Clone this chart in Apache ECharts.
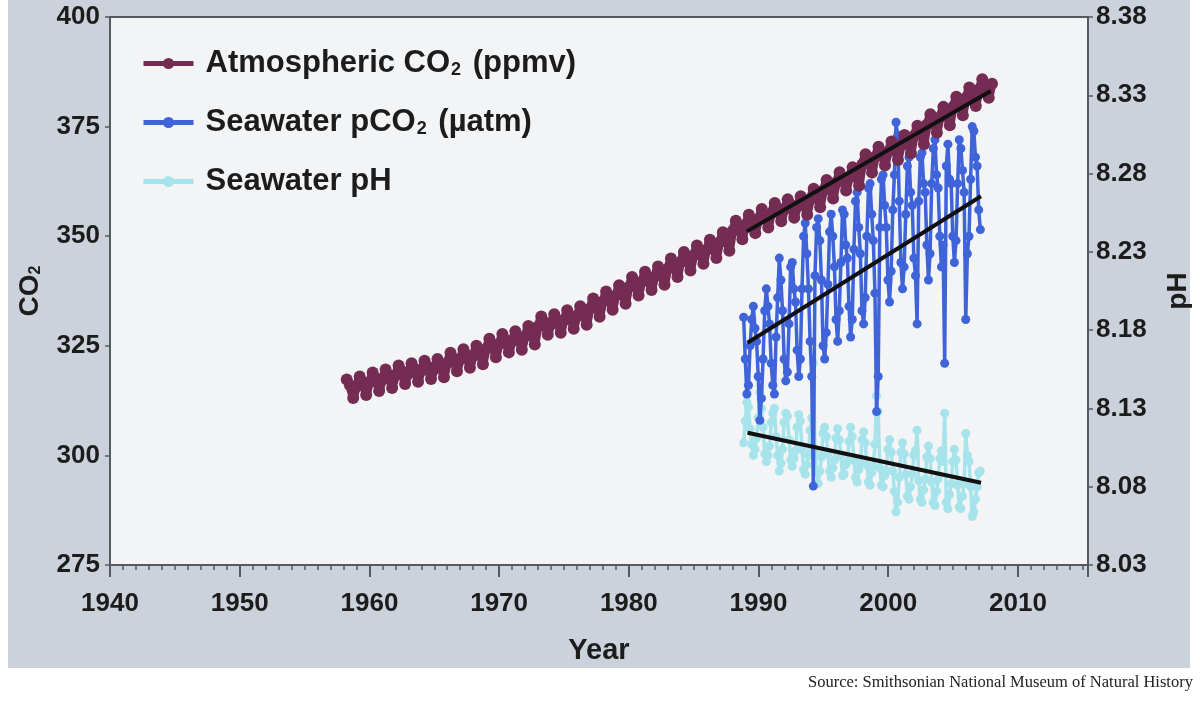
<!DOCTYPE html>
<html>
<head>
<meta charset="utf-8">
<script src="https://cdn.jsdelivr.net/npm/echarts@6/dist/echarts.min.js"></script>
<style>
html,body{margin:0;padding:0;background:#fff;}
#chart{width:1200px;height:702px;}
</style>
</head>
<body>
<div id="chart"></div>
<script>
// Mauna Loa CO2, sampled every quarter (Jan/Apr/Jul/Oct) from Apr 1958
var co2Start = 1958.25;
var co2Step = 0.25;
var co2Values = [
  317.3, 316.0, 313.1,
  315.7, 318.0, 316.7, 313.8,
  316.6, 318.9, 317.6, 314.7,
  317.3, 319.6, 318.3, 315.4,
  318.2, 320.5, 319.2, 316.3,
  318.7, 321.0, 319.7, 316.8,
  319.3, 321.6, 320.3, 317.4,
  319.7, 322.0, 320.7, 317.8,
  321.1, 323.4, 322.1, 319.2,
  321.9, 324.2, 322.9, 320.0,
  322.7, 325.0, 323.7, 320.8,
  324.3, 326.6, 325.3, 322.4,
  325.4, 327.7, 326.4, 323.5,
  326.0, 328.3, 327.0, 324.1,
  327.2, 329.5, 328.2, 325.3,
  329.4, 331.7, 330.4, 327.5,
  329.9, 332.2, 330.9, 328.0,
  330.8, 333.1, 331.8, 328.9,
  331.7, 334.0, 332.7, 329.8,
  333.5, 335.8, 334.5, 331.6,
  335.1, 337.4, 336.1, 333.2,
  336.5, 338.8, 337.5, 334.6,
  338.4, 340.7, 339.4, 336.5,
  339.6, 341.9, 340.6, 337.7,
  340.8, 343.1, 341.8, 338.9,
  342.6, 344.9, 343.6, 340.7,
  344.1, 346.4, 345.1, 342.2,
  345.6, 347.9, 346.6, 343.7,
  346.9, 349.2, 347.9, 345.0,
  348.6, 350.9, 349.6, 346.7,
  351.2, 353.5, 352.2, 349.3,
  352.6, 354.9, 353.6, 350.7,
  353.9, 356.2, 354.9, 352.0,
  355.3, 357.6, 356.3, 353.4,
  356.1, 358.4, 357.1, 354.2,
  356.8, 359.1, 357.8, 354.9,
  358.5, 360.8, 359.5, 356.6,
  360.5, 362.8, 361.5, 358.6,
  362.3, 364.6, 363.3, 360.4,
  363.4, 365.7, 364.4, 361.5,
  366.4, 368.7, 367.4, 364.5,
  368.1, 370.4, 369.1, 366.2,
  369.3, 371.6, 370.3, 367.4,
  370.8, 373.1, 371.8, 368.9,
  372.9, 375.2, 373.9, 371.0,
  375.5, 377.8, 376.5, 373.6,
  377.2, 379.5, 378.2, 375.3,
  379.5, 381.8, 380.5, 377.6,
  381.6, 383.9, 382.6, 379.7,
  383.5, 385.8, 384.5, 381.6,
  384.8
];

// Station ALOHA samples, 8 per year from late 1988
var seaStart = 1988.85;
var seaStep = 0.125;
var pco2Values = [
  331.5, 322, 314, 316, 325, 331, 334, 329,
  326, 318, 308, 313, 322, 333, 338, 334,
  330, 321, 316, 314, 327, 336, 345, 340,
  333, 322, 317, 319, 330, 343, 344, 338,
  335, 324, 318, 322, 338, 350, 353, 346,
  338, 326, 318, 293, 341, 352, 354, 349,
  340, 325, 322, 328, 339, 351, 355, 350,
  343, 331, 326, 333, 344, 356, 355, 348,
  345, 334, 327, 331, 347, 358, 360, 352,
  346, 333, 330, 336, 350, 361, 362, 355,
  349, 337, 310, 318, 352, 363, 364, 357,
  352, 340, 335, 342, 356, 364, 376, 373,
  358, 344, 338, 343, 355, 366, 368, 360,
  357, 345, 341, 330, 358, 368, 369, 362,
  360, 348, 340, 346, 362, 370, 372, 364,
  361, 350, 343, 348, 321, 366, 371, 363,
  362, 350, 344, 349, 362, 372, 370, 365,
  360, 331, 346, 350, 363, 375, 374, 368,
  366, 356, 351.5
];
var phValues = [
  8.108, 8.122, 8.134, 8.131, 8.117, 8.107, 8.100, 8.104,
  8.111, 8.124, 8.140, 8.130, 8.118, 8.101, 8.096, 8.100,
  8.106, 8.121, 8.127, 8.130, 8.112, 8.100, 8.090, 8.095,
  8.104, 8.121, 8.127, 8.125, 8.110, 8.097, 8.093, 8.098,
  8.103, 8.118, 8.126, 8.122, 8.104, 8.091, 8.088, 8.094,
  8.100, 8.116, 8.124, 8.159, 8.103, 8.090, 8.082, 8.090,
  8.099, 8.114, 8.118, 8.112, 8.101, 8.090, 8.086, 8.092,
  8.097, 8.111, 8.117, 8.110, 8.100, 8.087, 8.088, 8.094,
  8.096, 8.109, 8.118, 8.112, 8.097, 8.086, 8.083, 8.091,
  8.095, 8.110, 8.115, 8.108, 8.094, 8.083, 8.081, 8.089,
  8.093, 8.107, 8.138, 8.128, 8.092, 8.081, 8.080, 8.087,
  8.090, 8.104, 8.110, 8.102, 8.090, 8.077, 8.064, 8.070,
  8.086, 8.102, 8.108, 8.101, 8.088, 8.074, 8.072, 8.080,
  8.088, 8.100, 8.103, 8.116, 8.084, 8.072, 8.070, 8.078,
  8.085, 8.099, 8.106, 8.098, 8.083, 8.070, 8.068, 8.077,
  8.085, 8.098, 8.103, 8.096, 8.127, 8.070, 8.066, 8.075,
  8.082, 8.096, 8.104, 8.097, 8.081, 8.067, 8.066, 8.074,
  8.082, 8.114, 8.100, 8.096, 8.080, 8.061, 8.064, 8.072,
  8.080, 8.089, 8.090
];

// fitted trend lines (end points)
var co2TrendYears = [1989.1, 2007.9];
var co2Trend = [351.1, 383.1];
var seaTrendYears = [1989.15, 2007.15];
var pco2Trend = [325.7, 359.1];
var phTrend = [8.1145, 8.0825];

var co2Ticks = [275, 300, 325, 350, 375, 400];
var yearTicks = [1940, 1950, 1960, 1970, 1980, 1990, 2000, 2010];

var seriesNames = ['Atmospheric CO2 (ppmv)', 'Seawater pCO2 (µatm)', 'Seawater pH'];

function series(start, step, vals){
    var out = [];
    for(var i = 0; i < vals.length; i++){
        out.push([start + i * step, vals[i]]);
    }
    return out;
}
function pairs(xs, ys){
    return xs.map(function(x, i){ return [x, ys[i]]; });
}

var FONT = 'Liberation Sans';
var INK = '#1c1c1c';
var AXIS = '#555a60';

var myChart = echarts.init(document.getElementById('chart'));

var option = {
    animation: false,
    backgroundColor: '#ffffff',
    textStyle: {fontFamily: FONT},
    graphic: [
        {type: 'rect', z: -100, silent: true,
         shape: {x: 8, y: 0, width: 1182, height: 668},
         style: {fill: '#cbd2db'}},
        {type: 'text', left: 808, top: 674, silent: true,
         style: {text: 'Source: Smithsonian National Museum of Natural History',
                 font: '16.5px "Liberation Serif"', fill: '#222'}}
    ],
    grid: {
        left: 110, right: 110, top: 17, bottom: 137,
        show: true, backgroundColor: '#f2f4f6',
        borderColor: AXIS, borderWidth: 2
    },
    legend: {
        data: seriesNames,
        orient: 'vertical',
        left: 136, top: 43,
        itemWidth: 50, itemHeight: 14, itemGap: 28,
        lineStyle: {width: 5},
        formatter: function(name){
            if(name.indexOf('Atmospheric') === 0) return '{b|Atmospheric CO}{s|2}{b| (ppmv)}';
            if(name.indexOf('Seawater pCO2') === 0) return '{b|Seawater pCO}{s|2}{b| (µatm)}';
            return '{b|' + name + '}';
        },
        textStyle: {
            padding: [0, 0, 0, 7],
            rich: {
                b: {fontSize: 31, fontWeight: 'bold', color: INK, fontFamily: FONT},
                s: {fontSize: 18, fontWeight: 'bold', color: INK, fontFamily: FONT, verticalAlign: 'bottom', padding: [0, 3, 0, 1]}
            }
        }
    },
    xAxis: {
        type: 'value',
        min: 1940, max: 2015.4, interval: 10,
        name: 'Year', nameLocation: 'middle', nameGap: 71,
        nameTextStyle: {fontSize: 29, fontWeight: 'bold', color: INK},
        axisLine: {show: true, lineStyle: {color: AXIS, width: 2}},
        axisTick: {show: true, length: 12, lineStyle: {color: AXIS, width: 2}},
        minorTick: {show: true, splitNumber: 10, length: 5, lineStyle: {color: AXIS, width: 1.5}},
        axisLabel: {fontSize: 26, fontWeight: 'bold', color: INK, margin: 26, showMaxLabel: false,
                    formatter: function(v){ return yearTicks.indexOf(v) >= 0 ? String(v) : ''; }},
        splitLine: {show: false}
    },
    yAxis: [
        {
            type: 'value', position: 'left',
            min: co2Ticks[0], max: co2Ticks[co2Ticks.length - 1], interval: 25,
            name: '{b|CO}{s|2}', nameLocation: 'middle', nameGap: 66, nameRotate: 90,
            nameTextStyle: {
                rich: {
                    b: {fontSize: 28, fontWeight: 'bold', color: INK, fontFamily: FONT},
                    s: {fontSize: 16, fontWeight: 'bold', color: INK, fontFamily: FONT, verticalAlign: 'bottom'}
                }
            },
            axisLine: {show: true, lineStyle: {color: AXIS, width: 2}},
            axisTick: {show: true, length: 5, lineStyle: {color: AXIS, width: 1.5}},
            axisLabel: {fontSize: 26, fontWeight: 'bold', color: INK, margin: 10},
            splitLine: {show: false}
        },
        {
            type: 'value', position: 'right',
            min: 8.03, max: 8.38, interval: 0.05,
            name: 'pH', nameLocation: 'middle', nameGap: 76, nameRotate: 90,
            nameTextStyle: {fontSize: 28, fontWeight: 'bold', color: INK},
            axisLine: {show: true, lineStyle: {color: AXIS, width: 2}},
            axisTick: {show: true, length: 5, lineStyle: {color: AXIS, width: 1.5}},
            axisLabel: {fontSize: 26, fontWeight: 'bold', color: INK, margin: 8,
                        formatter: function(v){ return v.toFixed(2); }},
            splitLine: {show: false}
        }
    ],
    series: [
        {
            name: seriesNames[2], type: 'line', yAxisIndex: 1, z: 2,
            data: series(seaStart, seaStep, phValues),
            symbol: 'circle', symbolSize: 9,
            lineStyle: {color: '#a6e3ea', width: 3.5},
            itemStyle: {color: '#a6e3ea'}
        },
        {
            name: seriesNames[1], type: 'line', yAxisIndex: 0, z: 3,
            data: series(seaStart, seaStep, pco2Values),
            symbol: 'circle', symbolSize: 9,
            lineStyle: {color: '#3f63d8', width: 3.5},
            itemStyle: {color: '#3f63d8'}
        },
        {
            name: seriesNames[0], type: 'line', yAxisIndex: 0, z: 4,
            data: series(co2Start, co2Step, co2Values),
            symbol: 'circle', symbolSize: 12,
            lineStyle: {color: '#742c53', width: 9},
            itemStyle: {color: '#742c53'}
        },
        {
            name: 'co2 trend', type: 'line', yAxisIndex: 0, z: 6,
            data: pairs(co2TrendYears, co2Trend), symbol: 'none',
            lineStyle: {color: '#111', width: 4}
        },
        {
            name: 'pco2 trend', type: 'line', yAxisIndex: 0, z: 6,
            data: pairs(seaTrendYears, pco2Trend), symbol: 'none',
            lineStyle: {color: '#111', width: 4}
        },
        {
            name: 'ph trend', type: 'line', yAxisIndex: 1, z: 6,
            data: pairs(seaTrendYears, phTrend), symbol: 'none',
            lineStyle: {color: '#111', width: 4}
        }
    ]
};
myChart.setOption(option);
</script>
</body>
</html>
